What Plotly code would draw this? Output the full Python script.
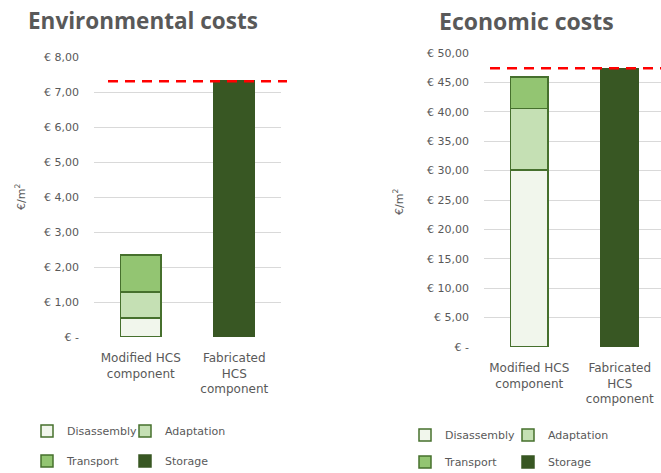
import plotly.graph_objects as go

# Cost breakdown per component option (euro per square metre)
components = ["Modified HCS<br>component", "Fabricated<br>HCS<br>component"]
stages = ["Disassembly", "Adaptation", "Transport", "Storage"]

env_disassembly = [0.55, None]
env_adaptation = [0.74, None]
env_transport = [1.05, None]
env_storage = [None, 7.31]

eco_disassembly = [30.1, None]
eco_adaptation = [10.5, None]
eco_transport = [5.3, None]
eco_storage = [None, 47.4]

env_ticks = [0, 1, 2, 3, 4, 5, 6, 7, 8]
env_ticktext = ["€ -", "€ 1,00", "€ 2,00", "€ 3,00", "€ 4,00", "€ 5,00", "€ 6,00", "€ 7,00", "€ 8,00"]
eco_ticks = [0, 5, 10, 15, 20, 25, 30, 35, 40, 45, 50]
eco_ticktext = ["€ -", "€ 5,00", "€ 10,00", "€ 15,00", "€ 20,00", "€ 25,00",
                "€ 30,00", "€ 35,00", "€ 40,00", "€ 45,00", "€ 50,00"]

fills = {"Disassembly": "#f1f6ec", "Adaptation": "#c5e0b4",
         "Transport": "#93c572", "Storage": "#385723"}
outline = "#46702d"
grey = "#595959"
title_font = "Open Sans, sans-serif"
body_font = "DejaVu Sans, sans-serif"

env_series = [env_disassembly, env_adaptation, env_transport, env_storage]
eco_series = [eco_disassembly, eco_adaptation, eco_transport, eco_storage]

fig = go.Figure()

# legend symbol centres (pixels) for each chart's four entries
env_leg_pos = [(47, 431), (145, 431), (47, 461), (145, 461)]
eco_leg_pos = [(425, 435), (528, 435), (425, 462), (528, 462)]

W, H = 661, 473
legends = {}
n = 0
for series, axes, pos, width in (
    (env_series, ("x", "y"), env_leg_pos, 0.43),
    (eco_series, ("x2", "y2"), eco_leg_pos, 0.41),
):
    for stage, vals, (px, py) in zip(stages, series, pos):
        n += 1
        lname = "legend" if n == 1 else f"legend{n}"
        fig.add_trace(go.Bar(
            x=components, y=vals, name=stage,
            xaxis=axes[0], yaxis=axes[1], width=width,
            marker=dict(color=fills[stage],
                        line=dict(color=outline if stage != "Storage" else fills[stage], width=1.5)),
            legend=lname, showlegend=True,
        ))
        legends[lname] = dict(
            x=(px - 20) / W, y=1 - py / H, xanchor="left", yanchor="middle",
            orientation="h", bgcolor="rgba(0,0,0,0)",
            font=dict(family=body_font, size=11, color=grey),
            itemwidth=30, tracegroupgap=0,
        )

axis_common = dict(
    showgrid=True, gridcolor="#d9d9d9", gridwidth=1, zeroline=False,
    tickfont=dict(family=body_font, size=11, color=grey), ticks="",
    ticklabelstandoff=14,
)
xaxis_common = dict(
    showgrid=False, showline=False, ticks="", ticklabelstandoff=12,
    tickfont=dict(family=body_font, size=12, color=grey),
)

fig.update_layout(
    width=W, height=H, margin=dict(l=0, r=0, t=0, b=0, autoexpand=False),
    paper_bgcolor="white", plot_bgcolor="white",
    barmode="stack",
    xaxis=dict(domain=[94 / W, 281 / W], range=[-0.5, 1.5], anchor="y", **xaxis_common),
    yaxis=dict(domain=[(H - 337) / H, (H - 57) / H], range=[0, 8],
               tickvals=env_ticks, ticktext=env_ticktext, anchor="x", **axis_common),
    xaxis2=dict(domain=[484 / W, 1.0], range=[-0.5, 1.456], anchor="y2", **xaxis_common),
    yaxis2=dict(domain=[(H - 347) / H, (H - 53) / H], range=[0, 50],
                tickvals=eco_ticks, ticktext=eco_ticktext, anchor="x2", **axis_common),
    **legends,
)

# Reference level: total of the fabricated component
env_ref = env_storage[1]
eco_ref = eco_storage[1]
fig.add_shape(type="line", xref="paper", yref="y", x0=108 / W, x1=287 / W,
              y0=env_ref, y1=env_ref, line=dict(color="#ff0000", width=2.5, dash="10px,7px"))
fig.add_shape(type="line", xref="paper", yref="y2", x0=490 / W, x1=1.0,
              y0=eco_ref, y1=eco_ref, line=dict(color="#ff0000", width=2.5, dash="10px,7px"))

# Chart titles
fig.add_annotation(text="<b>Environmental costs</b>", x=143 / W, y=1 - 20 / H,
                   xref="paper", yref="paper", showarrow=False, xanchor="center", yanchor="middle",
                   font=dict(family=title_font, size=22.5, color=grey))
fig.add_annotation(text="<b>Economic costs</b>", x=526 / W, y=1 - 21 / H,
                   xref="paper", yref="paper", showarrow=False, xanchor="center", yanchor="middle",
                   font=dict(family=title_font, size=23, color=grey))

# Y-axis unit labels
for xp, yp in ((20, 197), (399, 202)):
    fig.add_annotation(text="€/m<sup>2</sup>", x=xp / W, y=1 - yp / H, xref="paper", yref="paper",
                       showarrow=False, textangle=-90, xanchor="center", yanchor="middle",
                       font=dict(family=body_font, size=11, color=grey))

fig.write_html("out.html")
